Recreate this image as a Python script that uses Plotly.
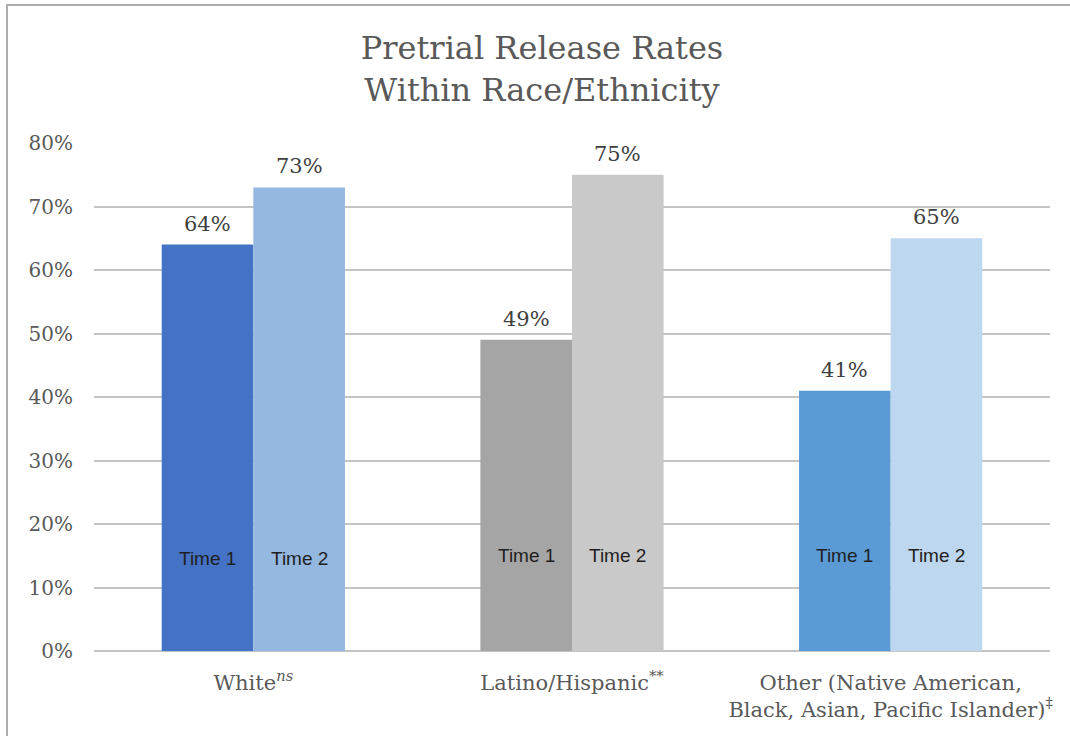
import plotly.graph_objects as go

# Chart data
categories = ["White<sup><i>ns</i></sup>",
              "Latino/Hispanic<sup>**</sup>",
              "Other (Native American,<br>Black, Asian, Pacific Islander)<sup>‡</sup>"]
time1_values = [64, 49, 41]
time2_values = [73, 75, 65]
series_names = ["Time 1", "Time 2"]
y_ticks = [0, 10, 20, 30, 40, 50, 60, 70, 80]
y_tick_labels = [f"{v}%" for v in y_ticks]

time1_colors = ["#4472C4", "#A5A5A5", "#5B9BD5"]
time2_colors = ["#95B8E0", "#C9C9C9", "#BDD7EE"]

SERIF = "Georgia, 'DejaVu Serif', serif"
SANS = "'Liberation Sans', Arial, sans-serif"

W, H = 1070, 736
L, R, T, B = 94, 20, 143, 85

fig = go.Figure()
for name, vals, cols in [(series_names[0], time1_values, time1_colors),
                         (series_names[1], time2_values, time2_colors)]:
    fig.add_trace(go.Bar(
        name=name, x=categories, y=vals,
        marker=dict(color=cols, line=dict(width=0)),
        cliponaxis=False,
    ))

# Value labels above bars and series names inside bars
bar_half = (1 - 0.425) / 4
label_y = [14.5, 15, 15]
for i in range(len(categories)):
    for j, (name, vals) in enumerate([(series_names[0], time1_values),
                                      (series_names[1], time2_values)]):
        xpos = i + (-bar_half if j == 0 else bar_half)
        fig.add_annotation(
            x=xpos, y=vals[i], xref="x", yref="y", text=f"{vals[i]}%",
            showarrow=False, yanchor="bottom", yshift=7,
            font=dict(family=SERIF, size=21, color="#404040"),
        )
        fig.add_annotation(
            x=xpos, y=label_y[i], xref="x", yref="y", text=name, showarrow=False,
            font=dict(family=SANS, size=19, color="#1F1F1F"),
        )

# Outer chart border
plot_w, plot_h = W - L - R, H - T - B
fig.add_shape(type="rect", xref="paper", yref="paper",
              x0=(7 - L) / plot_w, x1=(W + 20 - L) / plot_w,
              y0=-(B + 20) / plot_h, y1=(H - B - 5) / plot_h,
              line=dict(color="#ADADAD", width=2), layer="below")

fig.update_layout(
    width=W, height=H,
    margin=dict(l=L, r=R, t=T, b=B),
    title=dict(text="Pretrial Release Rates<br>Within Race/Ethnicity",
               xref="container", yref="container",
               x=542 / W, y=1 - 59 / H, xanchor="center", yanchor="middle",
               font=dict(family=SERIF, size=32, color="#595959")),
    barmode="group", bargap=0.425, bargroupgap=0,
    showlegend=False,
    plot_bgcolor="white", paper_bgcolor="white",
    xaxis=dict(showgrid=False, showline=False, ticks="", ticklabelstandoff=17,
               tickfont=dict(family=SERIF, size=21, color="#595959")),
    yaxis=dict(range=[0, 80], tickvals=y_ticks, ticktext=y_tick_labels,
               showgrid=True, gridcolor="#C4C4C4", gridwidth=1.5,
               zeroline=True, zerolinecolor="#C4C4C4", zerolinewidth=1.5,
               showline=False, ticks="", ticklabelstandoff=20,
               tickfont=dict(family=SERIF, size=20, color="#595959")),
)

fig.write_html("out.html")
